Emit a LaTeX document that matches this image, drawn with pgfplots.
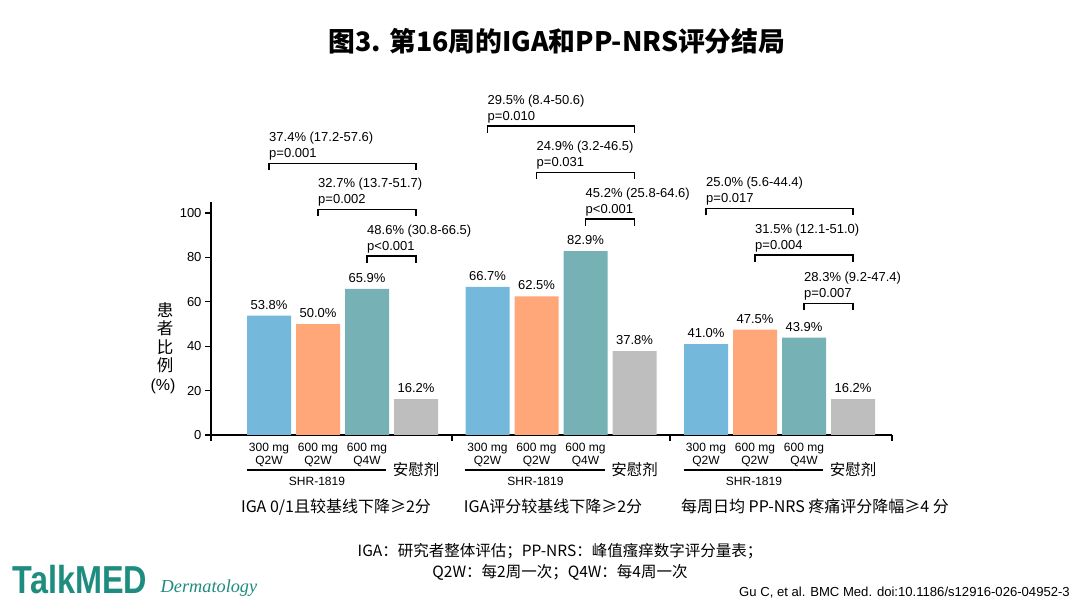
\documentclass[border=0pt]{standalone}
\usepackage{pgfplots}
\pgfplotsset{compat=1.18}
\usepackage{pgfplotstable}
\usepackage{fontspec}
\setmainfont{Liberation Sans}
\newfontfamily\cjk{Noto Sans CJK SC}
\newfontfamily\scr{Liberation Serif}
\definecolor{cblue}{RGB}{116,185,220}
\definecolor{corange}{RGB}{255,167,120}
\definecolor{cteal}{RGB}{118,177,182}
\definecolor{cgray}{RGB}{190,190,190}
\definecolor{logo}{RGB}{30,140,126}

% x = bar centre (in pixel units of the original figure), y = percent of patients
\pgfplotstableread{
x y
269 53.8
487.5 66.7
706 41.0
}\tblA
\pgfplotstableread{
x y
318 50.0
536.5 62.5
755 47.5
}\tblB
\pgfplotstableread{
x y
367 65.9
585.5 82.9
804 43.9
}\tblC
\pgfplotstableread{
x y
416 16.2
634.5 37.8
853 16.2
}\tblD

\newcommand{\brk}[5]{%
  \draw[line width=1.1pt] (#1,#3+7) -- (#1,#3) -- (#2,#3) -- (#2,#3+7);
  \node[anchor=base west, inner sep=0pt, font=\fontsize{13}{15}\selectfont] at (#1,#3-21.4) {#4};
  \node[anchor=base west, inner sep=0pt, font=\fontsize{13}{15}\selectfont] at (#1,#3-5.4) {#5};
}
\newcommand{\dose}[1]{%
  \node[anchor=base, inner sep=0pt, font=\fontsize{12}{14}\selectfont] at (269+#1,451.6) {300 mg};
  \node[anchor=base, inner sep=0pt, font=\fontsize{12}{14}\selectfont] at (269+#1,465.0) {Q2W};
  \node[anchor=base, inner sep=0pt, font=\fontsize{12}{14}\selectfont] at (318+#1,451.6) {600 mg};
  \node[anchor=base, inner sep=0pt, font=\fontsize{12}{14}\selectfont] at (318+#1,465.0) {Q2W};
  \node[anchor=base, inner sep=0pt, font=\fontsize{12}{14}\selectfont] at (367+#1,451.6) {600 mg};
  \node[anchor=base, inner sep=0pt, font=\fontsize{12}{14}\selectfont] at (367+#1,465.0) {Q4W};
  \draw[line width=1.1pt] (246.7+#1,470) -- (386+#1,470);
  \node[anchor=base, inner sep=0pt, font=\fontsize{12}{14}\selectfont] at (317+#1,486) {SHR-1819};
  \node[anchor=base, inner sep=0pt, font=\cjk\fontsize{15.5}{17}\selectfont] at (416+#1,476) {安慰剂};
}

\begin{document}
\begin{tikzpicture}
\fill[white] (0,0) rectangle (1080pt,608pt);
\path[use as bounding box] (0,0) rectangle (1080pt,608pt);
\begin{axis}[
  at={(211pt,173pt)}, anchor=south west,
  scale only axis, width=681pt, height=233pt,
  xmin=211, xmax=892, ymin=0, ymax=105,
  axis x line=bottom, axis y line=left,
  axis line style={-, line width=1.2pt, black},
  tick style={line width=1.2pt, black},
  tick align=outside, major tick length=6pt,
  xtick={211,452,670,892}, xticklabels={},
  ytick={0,20,40,60,80,100},
  yticklabel style={font=\fontsize{13}{15}\selectfont},
  /pgf/number format/assume math mode=true,
  clip=false,
  ybar, bar width=44,
  nodes near coords={\pgfmathprintnumber[fixed,fixed zerofill,precision=1]{\pgfplotspointmeta}\%},
  every node near coord/.append style={font=\fontsize{13}{15}\selectfont, anchor=south, inner sep=0pt, yshift=6pt, text=black},
]
\addplot[fill=cblue, draw=none, bar shift=0pt] table {\tblA};
\addplot[fill=corange, draw=none, bar shift=0pt] table {\tblB};
\addplot[fill=cteal, draw=none, bar shift=0pt] table {\tblC};
\addplot[fill=cgray, draw=none, bar shift=0pt] table {\tblD};
\end{axis}

\begin{scope}[x=1pt, y=-1pt, shift={(0pt,608pt)}]
% title
\node[anchor=base, inner sep=0pt, font=\cjk\bfseries\fontsize{26.8}{30}\selectfont] at (557,52) {图3. 第16周的IGA和PP-NRS评分结局};
% y label
\node[anchor=base, inner sep=0pt, font=\cjk\fontsize{16.5}{18}\selectfont] at (165,316.3) {患};
\node[anchor=base, inner sep=0pt, font=\cjk\fontsize{16.5}{18}\selectfont] at (165,334.3) {者};
\node[anchor=base, inner sep=0pt, font=\cjk\fontsize{16.5}{18}\selectfont] at (165,353.3) {比};
\node[anchor=base, inner sep=0pt, font=\cjk\fontsize{16.5}{18}\selectfont] at (165,371.3) {例};
\node[anchor=base, inner sep=0pt, font=\fontsize{16}{18}\selectfont] at (163,391) {(\%)};
% brackets group 1
\brk{269}{416}{163.3}{37.4\% (17.2-57.6)}{p=0.001}
\brk{318}{416}{209.3}{32.7\% (13.7-51.7)}{p=0.002}
\brk{367}{416}{256}{48.6\% (30.8-66.5)}{p<0.001}
% brackets group 2
\brk{487.5}{634.5}{126}{29.5\% (8.4-50.6)}{p=0.010}
\brk{536.5}{634.5}{172.3}{24.9\% (3.2-46.5)}{p=0.031}
\brk{585.5}{634.5}{219}{45.2\% (25.8-64.6)}{p<0.001}
% brackets group 3
\brk{706}{853}{208.3}{25.0\% (5.6-44.4)}{p=0.017}
\brk{755}{853}{255}{31.5\% (12.1-51.0)}{p=0.004}
\brk{804}{853}{303.3}{28.3\% (9.2-47.4)}{p=0.007}
% dose labels
\dose{0}
\dose{218.5}
\dose{437}
% group labels
\node[anchor=base, inner sep=0pt, font=\cjk\fontsize{16}{18}\selectfont] at (336,513) {IGA 0/1且较基线下降≥2分};
\node[anchor=base, inner sep=0pt, font=\cjk\fontsize{16}{18}\selectfont] at (553,513) {IGA评分较基线下降≥2分};
\node[anchor=base, inner sep=0pt, font=\cjk\fontsize{16}{18}\selectfont] at (815,513) {每周日均 PP-NRS 疼痛评分降幅≥4 分};
% footer
\node[anchor=base, inner sep=0pt, font=\cjk\fontsize{15.5}{17}\selectfont] at (560,557) {IGA：研究者整体评估；PP-NRS：峰值瘙痒数字评分量表；};
\node[anchor=base, inner sep=0pt, font=\cjk\fontsize{15.5}{17}\selectfont] at (560,578) {Q2W：每2周一次；Q4W：每4周一次};
\node[anchor=base east, inner sep=0pt, font=\fontsize{13.1}{15}\selectfont] at (1070,596.5) {Gu C, et al. BMC Med. doi:10.1186/s12916-026-04952-3};
% logo
\node[anchor=base west, inner sep=0pt, text=logo, font=\bfseries\fontsize{39}{40}\selectfont] at (12.7,593.3) {\scalebox{0.83}[1]{TalkMED}};
\node[anchor=base west, inner sep=0pt, text=logo, font=\scr\itshape\fontsize{18.3}{19}\selectfont] at (160.5,593) {Dermatology};
\end{scope}
\end{tikzpicture}
\end{document}
